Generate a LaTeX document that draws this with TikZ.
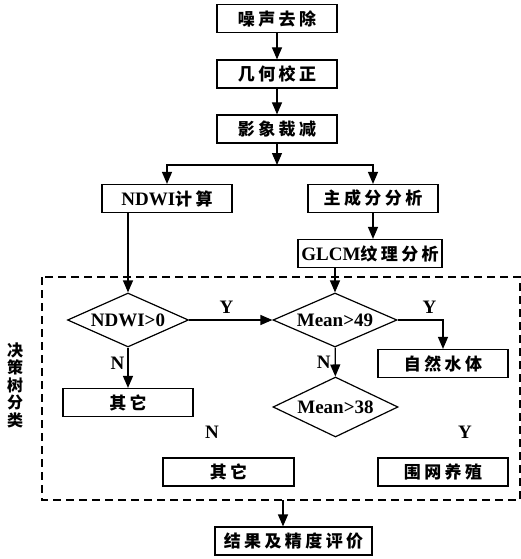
\documentclass[tikz,border=0pt]{standalone}
\usepackage{fontspec}
\setmainfont{Liberation Serif}
\newfontfamily\cjk[LetterSpace=20]{Noto Sans CJK SC}
\newcommand{\zh}[1]{{\cjk\fontsize{17}{19}\selectfont #1}}
\usetikzlibrary{shapes.geometric,arrows.meta}
\tikzset{
  box/.style={draw,line width=1.2pt,minimum width=130pt,minimum height=28pt,inner sep=0pt},
  decision/.style={draw,diamond,aspect=2.25,line width=1.2pt,inner sep=0pt,minimum width=122pt,minimum height=54pt},
  yn/.style={inner sep=0pt}
}
\begin{document}
\begin{tikzpicture}[x=1pt,y=-1pt,line width=1.2pt,font=\bfseries\fontsize{19}{21}\selectfont,
  >={Triangle[length=12pt,width=10pt]}]
  \useasboundingbox (0,0) rectangle (521,559);
  \draw
    (277,18.5) node[box,minimum width=120pt] (noise){\zh{噪声去除}}
    (277,74) node[box,minimum width=120pt] (geo){\zh{几何校正}}
    (277,129) node[box,minimum width=120pt] (crop){\zh{影象裁减}}
    (167,198.5) node[box] (ndwi){NDWI\zh{计算}}
    (373,198.5) node[box] (pca){\zh{主成分分析}}
    (370,253.5) node[box,minimum width=144pt] (glcm){GLCM\zh{纹理分析}}
    (128,320) node[decision,minimum width=121pt] (d1){NDWI>0}
    (335,320) node[decision,minimum width=124pt] (d2){Mean>49}
    (335.5,407) node[decision,aspect=2.08,minimum width=125pt,minimum height=60pt] (d3){Mean>38}
    (443,363.5) node[box] (water){\zh{自然水体}}
    (128,402.5) node[box] (other1){\zh{其它}}
    (228.5,472) node[box,minimum width=131pt] (other2){\zh{其它}}
    (443,472) node[box] (pen){\zh{围网养殖}}
    (293.5,541) node[box,minimum width=157pt] (result){\zh{结果及精度评价}};
  \coordinate (split) at (277,165);
  \coordinate (dashtl) at (42,277);
  \coordinate (dashbr) at (520,500);
  \coordinate (dashout) at (283,500);
  \draw[dash pattern=on 8pt off 5pt] (dashtl) rectangle (dashbr);
  \node[align=center,font=\bfseries\fontsize{16}{17.5}\selectfont\cjk] (side) at (15,385) {决\\策\\树\\分\\类};
  \begin{scope}[->]
    \draw (noise) to (geo);
    \draw (geo) to (crop);
    \draw (crop) to (split);
    \draw (split) -| (ndwi);
    \draw (split) -| (pca);
    \draw (pca) to (pca |- glcm.north);
    \draw (glcm.south -| d2) to (d2);
    \draw (ndwi.south -| d1) to (d1);
    \draw (d1) to node[yn,above=6pt,pos=0.45]{Y} (d2);
    \draw (d2.east) -| node[yn,above=6pt,pos=0.35]{Y} (water);
    \draw (d1) to node[yn,left=3pt,pos=0.4]{N} (other1);
    \draw (d2) to node[yn,left=4pt,pos=0.5]{N} (d3);
    \draw (dashout) to (dashout |- result.north);
  \end{scope}
  \node[yn] (nlab) at (212,432) {N};
  \node[yn] (ylab) at (465,432) {Y};
\end{tikzpicture}
\end{document}
